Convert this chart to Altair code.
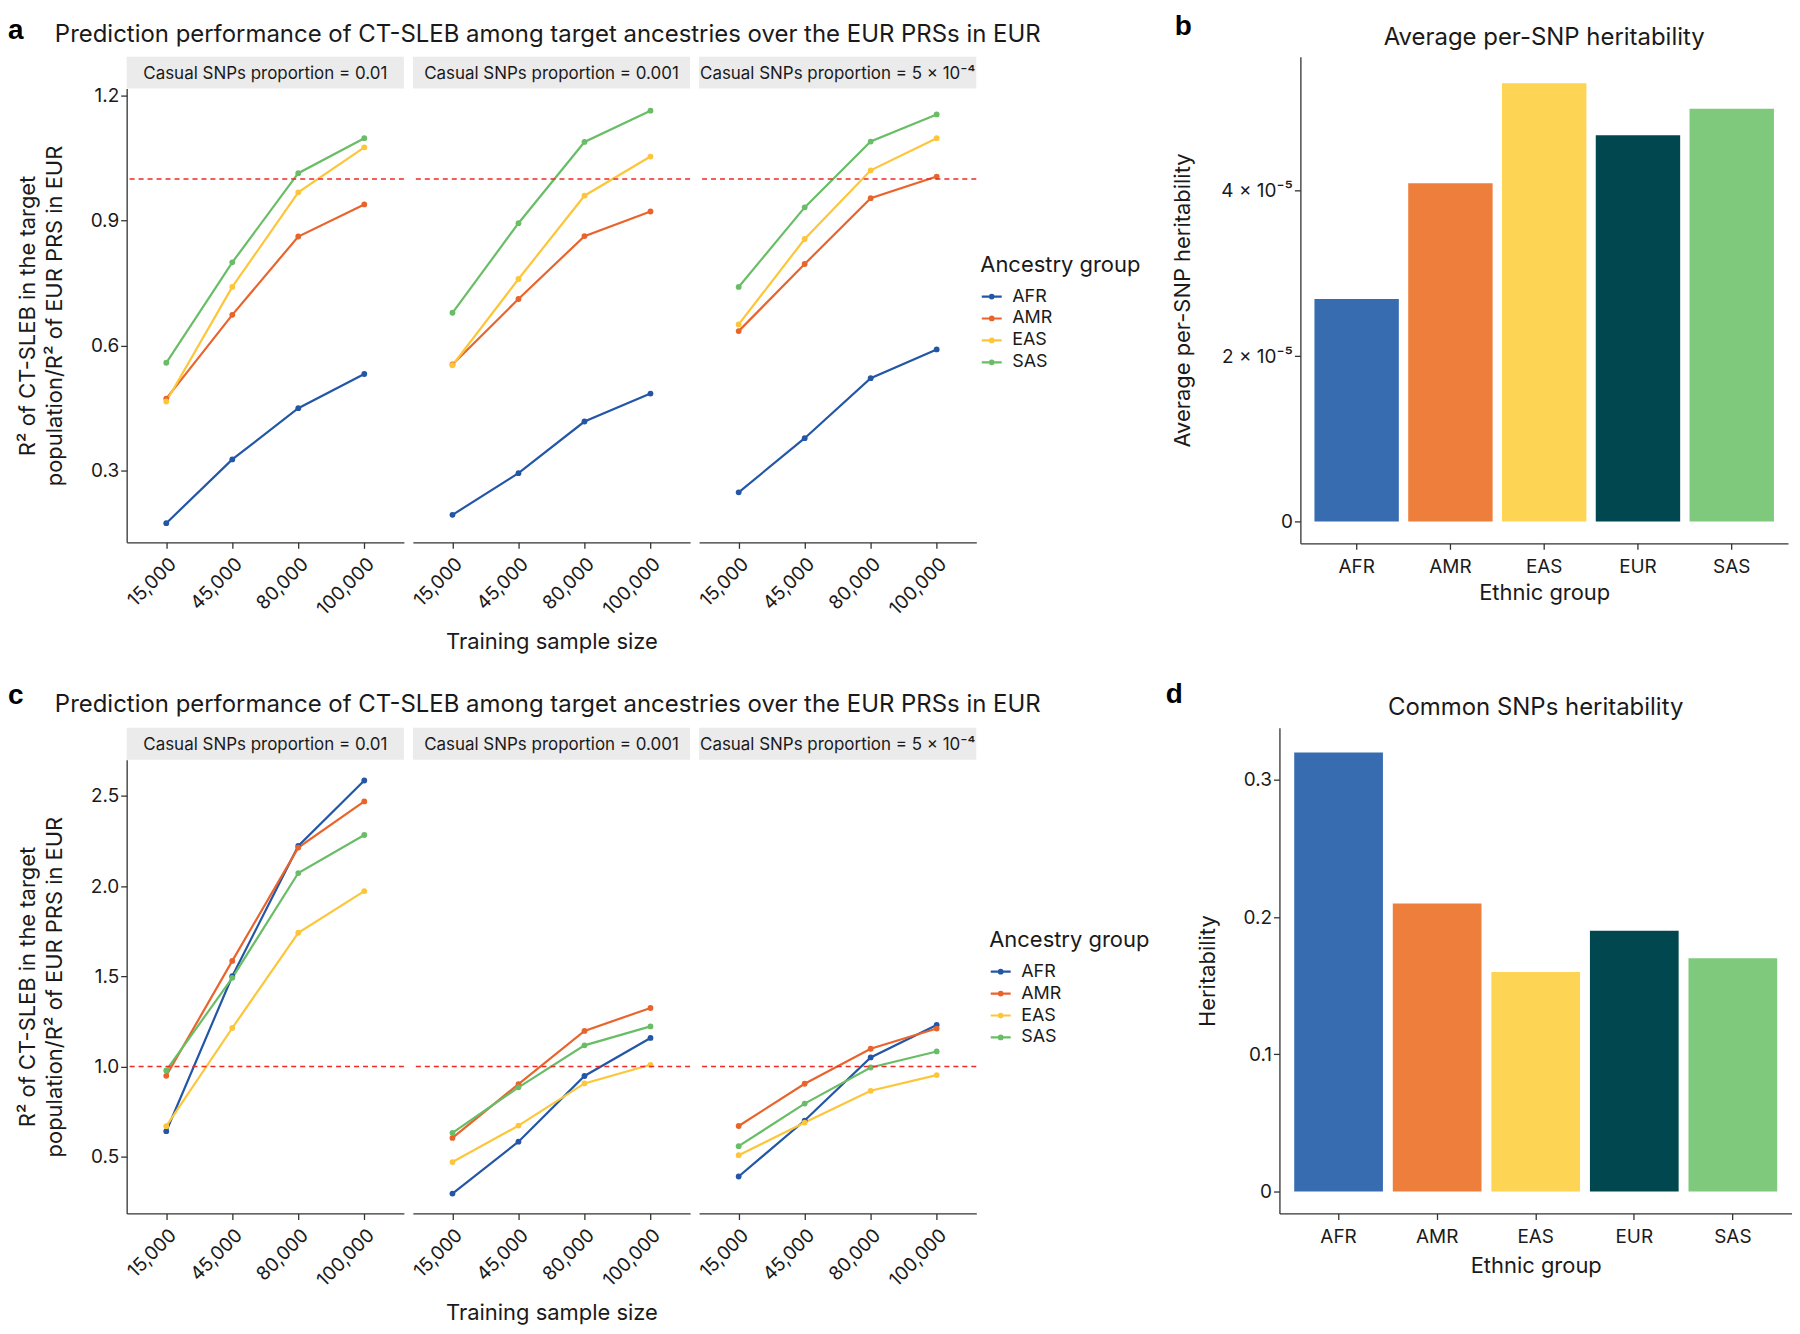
import altair as alt
import pandas as pd

FONT = "Inter"
LETTER_FONT = "Liberation Sans"

sizes = ["15,000", "45,000", "80,000", "100,000"]
ancestries = ["AFR", "AMR", "EAS", "SAS"]
line_colors = ["#2356A6", "#E9642C", "#FDC63A", "#69BD66"]
panel_labels = [
    "Casual SNPs proportion = 0.01",
    "Casual SNPs proportion = 0.001",
    "Casual SNPs proportion = 5 × 10⁻⁴",
]

# Panel a: ratio values, per facet, per ancestry (AFR, AMR, EAS, SAS)
a_p1 = [[0.174, 0.327, 0.450, 0.532], [0.473, 0.674, 0.862, 0.939],
        [0.466, 0.741, 0.968, 1.076], [0.559, 0.800, 1.014, 1.098]]
a_p2 = [[0.194, 0.294, 0.418, 0.485], [0.555, 0.712, 0.863, 0.922],
        [0.553, 0.760, 0.960, 1.054], [0.679, 0.894, 1.089, 1.164]]
a_p3 = [[0.248, 0.378, 0.522, 0.591], [0.635, 0.796, 0.954, 1.006],
        [0.651, 0.856, 1.021, 1.098], [0.741, 0.932, 1.090, 1.155]]

# Panel c
c_p1 = [[0.641, 1.500, 2.222, 2.585], [0.948, 1.585, 2.213, 2.469],
        [0.669, 1.213, 1.741, 1.972], [0.978, 1.491, 2.072, 2.283]]
c_p2 = [[0.295, 0.583, 0.947, 1.158], [0.604, 0.902, 1.197, 1.324],
        [0.470, 0.672, 0.906, 1.009], [0.632, 0.884, 1.117, 1.222]]
c_p3 = [[0.390, 0.700, 1.050, 1.230], [0.670, 0.904, 1.098, 1.210],
        [0.508, 0.689, 0.865, 0.952], [0.558, 0.794, 0.994, 1.083]]

groups = ["AFR", "AMR", "EAS", "EUR", "SAS"]
bar_colors = ["#386CB0", "#EE7E3C", "#FED455", "#00474F", "#7FC97D"]
per_snp_h2 = [2.69e-5, 4.09e-5, 5.30e-5, 4.67e-5, 4.99e-5]
common_h2 = [0.32, 0.21, 0.16, 0.19, 0.17]

title_ac = "Prediction performance of CT-SLEB among target ancestries over the EUR PRSs in EUR"
y_title_ac = ["R² of CT-SLEB in the target", "population/R² of EUR PRS in EUR"]

# layout
W = 278
H = 455
STRIP_H = 32
GAP = 9
TXT = "#1a1a1a"
LEGEND_PATH = "M-1,0L1,0M-0.18,0a0.18,0.18 0 1,0 0.36,0a0.18,0.18 0 1,0 -0.36,0"


def long_df(panel):
    rows = []
    for ai, anc in enumerate(ancestries):
        for si, s in enumerate(sizes):
            rows.append({"ancestry": anc, "size": s, "value": panel[ai][si]})
    return pd.DataFrame(rows)


def text_layer(text, x, y, size, weight="normal", align="left", font=FONT):
    df = pd.DataFrame({"t": [text]})
    return alt.Chart(df).mark_text(fontSize=size, fontWeight=weight, font=font, align=align,
                                   baseline="alphabetic", color="#000" if weight == "bold" else TXT
                                   ).encode(x=alt.value(x), y=alt.value(y), text="t:N")


def strip_chart(label, title=None, letter=None, title_y=-15, letter_y=-19):
    df = pd.DataFrame({"label": [label]})
    rect = alt.Chart(df).mark_rect(color="#EBEBEB").encode(
        x=alt.value(0), x2=alt.value(W), y=alt.value(0), y2=alt.value(STRIP_H)
    )
    txt = alt.Chart(df).mark_text(fontSize=17, font=FONT, color=TXT).encode(
        x=alt.value(W / 2), y=alt.value(STRIP_H / 2 + 1), text="label:N"
    )
    layers = [rect, txt]
    if letter is not None:
        layers.append(text_layer(letter, -119, letter_y, 28, "bold", font=LETTER_FONT))
    if title is not None:
        layers.append(text_layer(title, -72, title_y, 24))
    return alt.layer(*layers).properties(width=W, height=STRIP_H)


def plot_chart(panel, idx, ydomain, yticks, legend_xy):
    df = long_df(panel)
    if idx == 0:
        yaxis = alt.Axis(values=yticks, format=".1f", title=y_title_ac, titleLineHeight=27,
                         titlePadding=24)
    else:
        yaxis = None
    xaxis = alt.Axis(labelAngle=315, labelFontSize=19,
                     title="Training sample size" if idx == 1 else None,
                     titlePadding=13, labelPadding=6, titleFontSize=22)
    legend = alt.Legend(title="Ancestry group", orient="none", legendX=legend_xy[0],
                        legendY=legend_xy[1], symbolType=LEGEND_PATH, symbolSize=400,
                        symbolStrokeWidth=2.2, labelFontSize=18, titleFontSize=22,
                        titleFontWeight="normal", rowPadding=1, padding=0, titlePadding=8,
                        labelOffset=9, labelFont=FONT, titleFont=FONT,
                        labelColor=TXT, titleColor=TXT)
    base = alt.Chart(df).encode(
        x=alt.X("size:O", sort=sizes, scale=alt.Scale(domain=sizes, padding=0.6), axis=xaxis),
        y=alt.Y("value:Q", scale=alt.Scale(domain=ydomain, nice=False, zero=False), axis=yaxis),
        color=alt.Color("ancestry:N", scale=alt.Scale(domain=ancestries, range=line_colors),
                        legend=legend),
        detail="ancestry:N",
    )
    lines = base.mark_line(strokeWidth=2.2)
    pts = base.mark_circle(size=34, opacity=1)
    rule = alt.Chart(pd.DataFrame({"ref": [1.0]})).mark_rule(
        color="#EE2A24", strokeDash=[5, 4], strokeWidth=1.5).encode(y=alt.datum(1.0))
    return alt.layer(lines, pts, rule).properties(width=W, height=H)


def group(panels, ydomain, yticks, legend_xy, letter, title_y, letter_y):
    strips = [strip_chart(lbl, title_ac if i == 0 else None, letter if i == 0 else None,
                          title_y, letter_y)
              for i, lbl in enumerate(panel_labels)]
    plots = [plot_chart(p, i, ydomain, yticks, legend_xy) for i, p in enumerate(panels)]
    strip_row = alt.hconcat(*strips, spacing=GAP, bounds="flush")
    plot_row = alt.hconcat(*plots, spacing=GAP, bounds="flush")
    # nested rows count as zero height with flush bounds: offset by the strip height
    return alt.vconcat(strip_row, plot_row, spacing=STRIP_H, bounds="flush")


def bar_chart(values, title, ytitle, ydomain, yticks, label_expr, width, height, letter,
              letter_xy, title_y, title_pad, xtitle_pad):
    df = pd.DataFrame({"group": groups, "h": values})
    bars = alt.Chart(df).mark_bar().encode(
        x=alt.X("group:N", sort=groups,
                scale=alt.Scale(domain=groups, paddingInner=0.1, paddingOuter=0.15),
                axis=alt.Axis(title="Ethnic group", labelAngle=0, labelPadding=8,
                              titlePadding=xtitle_pad, labelFontSize=19, titleFontSize=22)),
        y=alt.Y("h:Q", scale=alt.Scale(domain=ydomain, nice=False, zero=False),
                axis=alt.Axis(values=yticks, labelExpr=label_expr, title=ytitle,
                              titlePadding=title_pad, titleFontSize=22)),
        color=alt.Color("group:N", scale=alt.Scale(domain=groups, range=bar_colors), legend=None),
    )
    let = text_layer(letter, letter_xy[0], letter_xy[1], 28, "bold", font=LETTER_FONT)
    ttl = text_layer(title, width / 2, title_y, 24, align="center")
    return alt.layer(bars, let, ttl).properties(width=width, height=height)


A_DOM = [0.128, 1.217]
C_DOM = [0.185, 2.70]

group_a = group([a_p1, a_p2, a_p3], A_DOM, [0.3, 0.6, 0.9, 1.2], (856, 199), "a", -15, -18)
group_c = group([c_p1, c_p2, c_p3], C_DOM, [0.5, 1.0, 1.5, 2.0, 2.5], (865, 203), "c", -16, -24)

chart_b = bar_chart(per_snp_h2, "Average per-SNP heritability", "Average per-SNP heritability",
                    [-0.265e-5, 5.62e-5], [0, 2e-5, 4e-5],
                    "datum.value == 0 ? '0' : round(datum.value * 100000) + ' × 10⁻⁵'",
                    489, 488, "b", (-126, -22), -12, 26, 6)
chart_d = bar_chart(common_h2, "Common SNPs heritability", "Heritability",
                    [-0.016, 0.338], [0, 0.1, 0.2, 0.3],
                    "datum.value == 0 ? '0' : format(datum.value, '.1f')",
                    514, 487, "d", (-114, -25), -13, 24, 9)

row_a = alt.hconcat(group_a, chart_b, spacing=31).resolve_scale(color="independent")
row_c = alt.hconcat(group_c, chart_d, spacing=16).resolve_scale(color="independent")

chart = alt.vconcat(row_a, row_c, spacing=28).resolve_scale(
    color="independent"
).properties(padding={"top": 3, "left": 0, "right": 0, "bottom": 0}).configure(
    font=FONT
).configure_view(stroke=None).configure_axis(
    grid=False, domainColor="#333333", domainWidth=1.3, tickColor="#333333", tickWidth=1.3,
    tickSize=6, labelColor=TXT, titleColor=TXT, labelFont=FONT, titleFont=FONT,
    labelFontSize=19, titleFontSize=22, titleFontWeight="normal"
)

chart.save("out.html", embed_options={"renderer": "svg", "actions": False})
